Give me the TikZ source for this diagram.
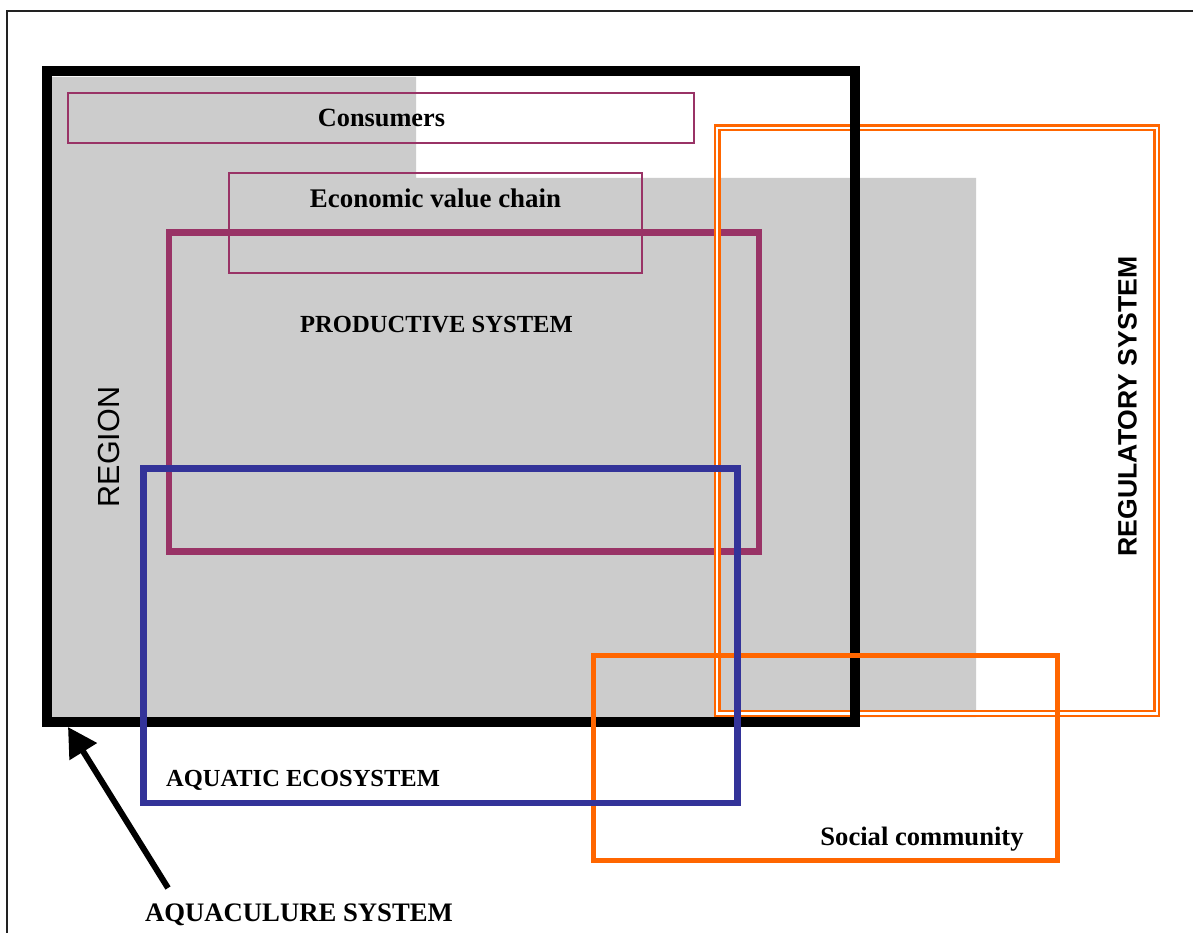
\documentclass[tikz,border=0pt]{standalone}
\usepackage{fontspec}
\setmainfont{Liberation Serif}
\newfontfamily\arialfont{Liberation Sans}
\usetikzlibrary{arrows.meta}
\definecolor{grayfill}{HTML}{CCCCCC}
\definecolor{maroon}{HTML}{993366}
\definecolor{navyblue}{HTML}{333399}
\definecolor{orng}{HTML}{FF6600}
\definecolor{framegray}{HTML}{222222}
\tikzset{
  lbl/.style={inner sep=0pt, anchor=base, font=\bfseries},
  thinbox/.style={draw=maroon, line width=2pt},
}
\begin{document}
\begin{tikzpicture}[x=1pt,y=-1pt]
\useasboundingbox (0,0) rectangle (1193,933);
\fill[white] (0,0) rectangle (1193,933);
% outer frame
\draw[framegray, line width=1.6pt] (7,940) -- (7,11) -- (1200,11);
% gray region
\fill[grayfill] (52,77) -- (416,77) -- (416,178) -- (976,178) -- (976,717) -- (52,717) -- cycle;
% productive system
\draw[maroon, line width=6.5pt] (169,232.5) rectangle (759,551.5);
% consumers and value chain
\draw[thinbox] (68,93) rectangle (694.3,143.5);
\draw[thinbox] (229,173.5) rectangle (642,272.7);
% regulatory system (double)
\draw[orng, line width=2.4pt, double=white, double distance=2.2pt] (717,128) rectangle (1156.7,713.5);
% region
\draw[black, line width=10pt] (47.3,70.8) rectangle (855,722);
% social community
\draw[orng, line width=5pt] (593,655.5) rectangle (1057,860.5);
% aquatic ecosystem
\draw[navyblue, line width=6.5pt] (143.7,468.3) rectangle (737.5,803);

% labels
\node[lbl, font=\bfseries\fontsize{26.3}{30}\selectfont] (consumers) at (381.5,127) {Consumers};
\node[lbl, font=\bfseries\fontsize{26.9}{30}\selectfont] (econ) at (435.5,208) {Economic value chain};
\node[lbl, font=\bfseries\fontsize{24.6}{28}\selectfont] (prod) at (436.5,332) {PRODUCTIVE SYSTEM};
\node[lbl, font=\bfseries\fontsize{24.5}{28}\selectfont] (aquatic) at (303,786) {AQUATIC ECOSYSTEM};
\node[lbl, font=\bfseries\fontsize{26.6}{30}\selectfont] (social) at (922,845) {Social community};
\node[lbl, font=\bfseries\fontsize{26.7}{30}\selectfont] (aquaculture) at (299,921) {AQUACULURE SYSTEM};
\node[inner sep=0pt, rotate=90, font=\arialfont\fontsize{30.5}{34}\selectfont] (region) at (109,447) {REGION};
\node[inner sep=0pt, rotate=90, font=\arialfont\bfseries\fontsize{26.6}{30}\selectfont] (regulatory) at (1127.5,406.5) {REGULATORY SYSTEM};

% arrow
\coordinate (arrowtail) at (168,888);
\coordinate (arrowtip) at (68,727);
\draw[black, line width=6pt, -{Triangle[length=29pt, width=31pt]}] (arrowtail) -- (arrowtip);
\end{tikzpicture}
\end{document}
